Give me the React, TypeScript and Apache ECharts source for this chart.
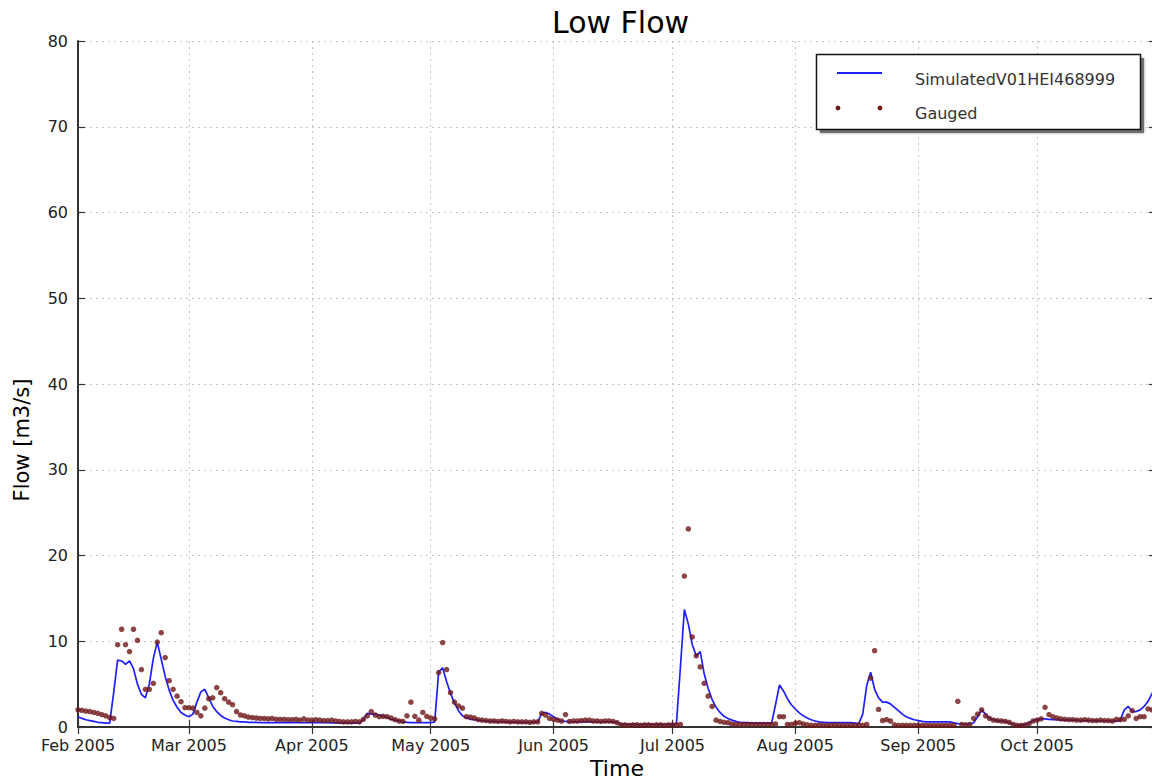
import React, { useEffect, useRef } from "react";
import * as echarts from "echarts";

// ---------- data (daily values, 1 Feb 2005 .. 31 Oct 2005) ----------
const monthNames = ["Jan", "Feb", "Mar", "Apr", "May", "Jun", "Jul", "Aug", "Sep", "Oct", "Nov", "Dec"];
const yTicks = [0, 10, 20, 30, 40, 50, 60, 70, 80];

const simFeb = [1.2, 1.0, 0.85, 0.75, 0.65, 0.55, 0.5, 0.45, 0.45, 4.0, 7.8, 7.7, 7.3, 7.7, 6.8, 5.0, 3.8, 3.4, 5.0, 8.0, 9.9, 7.9, 5.9, 4.3, 3.1, 2.3, 1.7, 1.4];
const simMar = [1.2, 1.5, 2.9, 4.1, 4.4, 3.4, 2.4, 1.8, 1.35, 1.05, 0.85, 0.7, 0.65, 0.6, 0.6, 0.55, 0.55, 0.55, 0.5, 0.5, 0.5, 0.5, 0.5, 0.5, 0.5, 0.5, 0.5, 0.5, 0.5, 0.5, 0.5];
const simApr = [0.5, 0.5, 0.5, 0.5, 0.5, 0.48, 0.48, 0.46, 0.45, 0.45, 0.45, 0.45, 0.45, 0.9, 1.6, 1.5, 1.5, 1.4, 1.3, 1.1, 0.9, 0.8, 0.7, 0.6, 0.55, 0.5, 0.5, 0.5, 0.5, 0.5];
const simMay = [0.5, 0.6, 6.4, 6.9, 5.3, 3.9, 2.8, 1.9, 1.3, 1.05, 0.9, 0.85, 0.8, 0.75, 0.7, 0.65, 0.65, 0.6, 0.6, 0.6, 0.6, 0.55, 0.55, 0.55, 0.55, 0.55, 0.55, 0.6, 1.6, 1.7, 1.5];
const simJun = [1.2, 0.9, 0.7, 0.65, 0.6, 0.6, 0.6, 0.6, 0.6, 0.6, 0.6, 0.6, 0.6, 0.6, 0.6, 0.6, 0.6, 0.3, 0.3, 0.3, 0.3, 0.3, 0.3, 0.3, 0.3, 0.3, 0.3, 0.3, 0.3, 0.3];
const simJul = [0.3, 0.4, 7.0, 13.7, 12.0, 9.6, 8.3, 8.8, 6.2, 4.5, 3.2, 2.3, 1.7, 1.25, 1.0, 0.8, 0.65, 0.55, 0.5, 0.5, 0.45, 0.45, 0.45, 0.45, 0.45, 0.45, 2.6, 4.9, 4.2, 3.3, 2.6];
const simAug = [2.1, 1.65, 1.3, 1.05, 0.85, 0.7, 0.6, 0.55, 0.5, 0.5, 0.5, 0.5, 0.5, 0.5, 0.5, 0.45, 0.4, 1.5, 4.8, 6.4, 4.4, 3.4, 2.9, 2.9, 2.7, 2.3, 1.9, 1.5, 1.2, 1.0, 0.85];
const simSep = [0.75, 0.65, 0.6, 0.6, 0.6, 0.6, 0.6, 0.6, 0.6, 0.5, 0.4, 0.35, 0.35, 0.35, 0.5, 1.2, 2.0, 1.5, 1.0, 0.85, 0.75, 0.7, 0.65, 0.5, 0.3, 0.2, 0.25, 0.3, 0.5, 0.75];
const simOct = [0.9, 0.95, 0.95, 0.9, 0.85, 0.85, 0.8, 0.8, 0.8, 0.8, 0.8, 0.75, 0.75, 0.75, 0.75, 0.75, 0.7, 0.7, 0.7, 0.7, 0.65, 0.8, 2.0, 2.4, 1.8, 1.8, 2.0, 2.4, 3.0, 3.9, 4.6];

const gauFeb = [2.0, 1.95, 1.85, 1.8, 1.7, 1.6, 1.45, 1.3, 1.1, 1.0, 9.6, 11.4, 9.6, 8.8, 11.4, 10.1, 6.7, 4.4, 4.4, 5.1, 9.9, 11.0, 8.1, 5.4, 4.4, 3.6, 2.95, 2.25];
const gauMar = [2.25, 2.2, 1.7, 1.3, 2.2, 3.3, 3.4, 4.6, 4.0, 3.3, 2.9, 2.6, 1.8, 1.4, 1.3, 1.15, 1.1, 1.05, 1.0, 1.0, 0.95, 1.0, 0.9, 0.9, 0.9, 0.85, 0.85, 0.9, 0.8, 0.95, 0.8];
const gauApr = [0.8, 0.85, 0.8, 0.75, 0.75, 0.8, 0.7, 0.65, 0.6, 0.6, 0.6, 0.65, 0.6, 0.9, 1.3, 1.8, 1.4, 1.2, 1.25, 1.2, 1.05, 0.85, 0.7, 0.65, 1.3, 2.9, 1.25, 0.8, 1.7, 1.25];
const gauMay = [1.05, 0.95, 6.35, 9.85, 6.7, 4.0, 2.9, 2.45, 2.2, 1.2, 1.15, 1.05, 0.85, 0.8, 0.75, 0.7, 0.7, 0.65, 0.7, 0.65, 0.6, 0.65, 0.6, 0.6, 0.6, 0.55, 0.6, 0.6, 1.6, 1.4, 1.0];
const gauJun = [0.9, 0.8, 0.7, 1.45, 0.65, 0.7, 0.7, 0.75, 0.8, 0.8, 0.7, 0.7, 0.65, 0.7, 0.7, 0.65, 0.5, 0.25, 0.25, 0.2, 0.25, 0.25, 0.2, 0.25, 0.25, 0.2, 0.25, 0.25, 0.2, 0.25];
const gauJul = [0.25, 0.25, 0.3, 17.6, 23.1, 10.5, 8.3, 7.0, 5.1, 3.6, 2.4, 0.8, 0.65, 0.55, 0.5, 0.35, 0.3, 0.3, 0.3, 0.3, 0.3, 0.3, 0.3, 0.3, 0.3, 0.3, 0.35, 1.2, 1.2, 0.3, 0.3];
const gauAug = [0.45, 0.5, 0.35, 0.25, 0.2, 0.2, 0.25, 0.2, 0.2, 0.2, 0.25, 0.2, 0.2, 0.2, 0.2, 0.2, 0.25, 0.2, 0.3, 5.7, 8.9, 2.05, 0.75, 0.85, 0.7, 0.25, 0.2, 0.2, 0.2, 0.2, 0.2];
const gauSep = [0.2, 0.2, 0.2, 0.2, 0.2, 0.2, 0.2, 0.2, 0.2, 0.2, 3.0, 0.3, 0.25, 0.3, 1.0, 1.5, 2.0, 1.3, 1.0, 0.8, 0.75, 0.7, 0.65, 0.55, 0.3, 0.2, 0.2, 0.25, 0.4, 0.7];
const gauOct = [0.8, 0.95, 2.3, 1.45, 1.2, 1.05, 0.95, 0.9, 0.85, 0.85, 0.8, 0.8, 0.85, 0.8, 0.75, 0.75, 0.8, 0.75, 0.75, 0.7, 0.9, 0.85, 0.9, 1.3, 1.9, 1.0, 1.2, 1.2, 2.1, 2.0, 2.1];

const simMonths = [simFeb, simMar, simApr, simMay, simJun, simJul, simAug, simSep, simOct];
const gauMonths = [gauFeb, gauMar, gauApr, gauMay, gauJun, gauJul, gauAug, gauSep, gauOct];
const firstMonth = 1; // February (0-based)

function toSeries(months: number[][]): [number, number][] {
  const out: [number, number][] = [];
  months.forEach((vals, mi) => {
    vals.forEach((v, di) => {
      out.push([new Date(2005, firstMonth + mi, 1 + di).getTime(), v]);
    });
  });
  return out;
}

const FONT = "'DejaVu Sans', 'Liberation Sans', sans-serif";
const DOT = "#6e1616";
const LINE = "#1f1fff";

export default function App() {
  const ref = useRef<HTMLDivElement>(null);

  useEffect(() => {
    document.body.style.margin = "0";
    if (!ref.current) return;
    const chart = echarts.init(ref.current, undefined, { renderer: "svg" });

    const xMin = new Date(2005, 1, 1).getTime();
    const xMax = new Date(2005, 9, 31).getTime();
    const monthTicks: number[] = [];
    for (let m = 1; m <= 9; m++) monthTicks.push(new Date(2005, m, 1).getTime());

    const fmt = (v: number) => {
      const d = new Date(v);
      return monthNames[d.getMonth()] + " " + d.getFullYear();
    };

    const gridLine = { show: true, lineStyle: { color: "#c4c4c4", type: [2, 4] as any, width: 1 } };
    const frame = { show: true, lineStyle: { color: "#333", width: 2 } };
    const tick = { show: true, inside: true, length: 7, lineStyle: { color: "#333", width: 1.2 } };

    chart.setOption({
      animation: false,
      backgroundColor: "#fff",
      title: {
        text: "Low Flow",
        left: 547,
        top: 2,
        textStyle: { fontSize: 30, fontWeight: "normal", color: "#000", fontFamily: FONT },
      },
      grid: { left: 78, top: 41, right: -4, bottom: 53, containLabel: false, outerBoundsMode: "none" },
      xAxis: [
        {
          type: "value",
          min: xMin,
          max: xMax,
          scale: true,
          axisLine: frame,
          axisTick: { ...tick, customValues: monthTicks },
          axisLabel: {
            customValues: monthTicks,
            formatter: (v: number) => fmt(v),
            fontSize: 16,
            lineHeight: 16,
            color: "#222",
            fontFamily: FONT,
            margin: 10,
            showMinLabel: true,
            hideOverlap: false,
          },
          splitLine: gridLine,
          name: "Time",
          nameLocation: "middle",
          nameGap: 28,
          nameTextStyle: { fontSize: 22, lineHeight: 22, color: "#000", fontFamily: FONT },
        },
        {
          type: "value",
          position: "top",
          min: xMin,
          max: xMax,
          scale: true,
          axisLine: frame,
          axisTick: { ...tick, customValues: monthTicks },
          axisLabel: { show: false, customValues: monthTicks },
          splitLine: { show: false },
        },
      ],
      yAxis: [
        {
          type: "value",
          min: 0,
          max: 80,
          interval: 10,
          axisLine: frame,
          axisTick: tick,
          axisLabel: {
            formatter: (v: number) => (yTicks.includes(v) ? String(v) : ""),
            fontSize: 16,
            lineHeight: 12,
            color: "#222",
            fontFamily: FONT,
            margin: 10,
          },
          splitLine: gridLine,
        },
        {
          type: "value",
          position: "right",
          min: 0,
          max: 80,
          interval: 10,
          axisLine: frame,
          axisTick: tick,
          axisLabel: { show: false },
          splitLine: { show: false },
        },
      ],
      series: [
        {
          name: "SimulatedV01HEI468999",
          type: "line",
          data: toSeries(simMonths),
          showSymbol: false,
          symbol: "none",
          lineStyle: { color: LINE, width: 1.7 },
          z: 2,
        },
        {
          name: "Gauged",
          type: "scatter",
          data: toSeries(gauMonths),
          symbolSize: 5.5,
          itemStyle: { color: DOT },
          z: 3,
        },
      ],
      graphic: [
        {
          type: "text",
          x: 22,
          y: 440,
          rotation: Math.PI / 2,
          style: { text: "Flow [m3/s]", fontSize: 21, fontFamily: FONT, fill: "#000", align: "center", verticalAlign: "middle" },
        },
        { type: "rect", z: 100, shape: { x: 820, y: 58, width: 324, height: 75 }, style: { fill: "#707070", shadowBlur: 3, shadowColor: "rgba(0,0,0,0.4)" } },
        { type: "rect", z: 101, shape: { x: 816.5, y: 54.5, width: 324, height: 75 }, style: { fill: "#fff", stroke: "#111", lineWidth: 1.5 } },
        { type: "line", z: 102, shape: { x1: 837, y1: 73, x2: 882, y2: 73 }, style: { stroke: LINE, lineWidth: 2 } },
        { type: "circle", z: 102, shape: { cx: 838, cy: 108, r: 2.4 }, style: { fill: DOT } },
        { type: "circle", z: 102, shape: { cx: 880, cy: 108, r: 2.4 }, style: { fill: DOT } },
        { type: "text", z: 102, x: 915, y: 79, style: { text: "SimulatedV01HEI468999", fontSize: 16, fontFamily: FONT, fill: "#333", verticalAlign: "middle" } },
        { type: "text", z: 102, x: 915, y: 113, style: { text: "Gauged", fontSize: 16, fontFamily: FONT, fill: "#333", verticalAlign: "middle" } },
      ],
    });

    return () => chart.dispose();
  }, []);

  return <div ref={ref} style={{ width: 1152, height: 780 }} />;
}
